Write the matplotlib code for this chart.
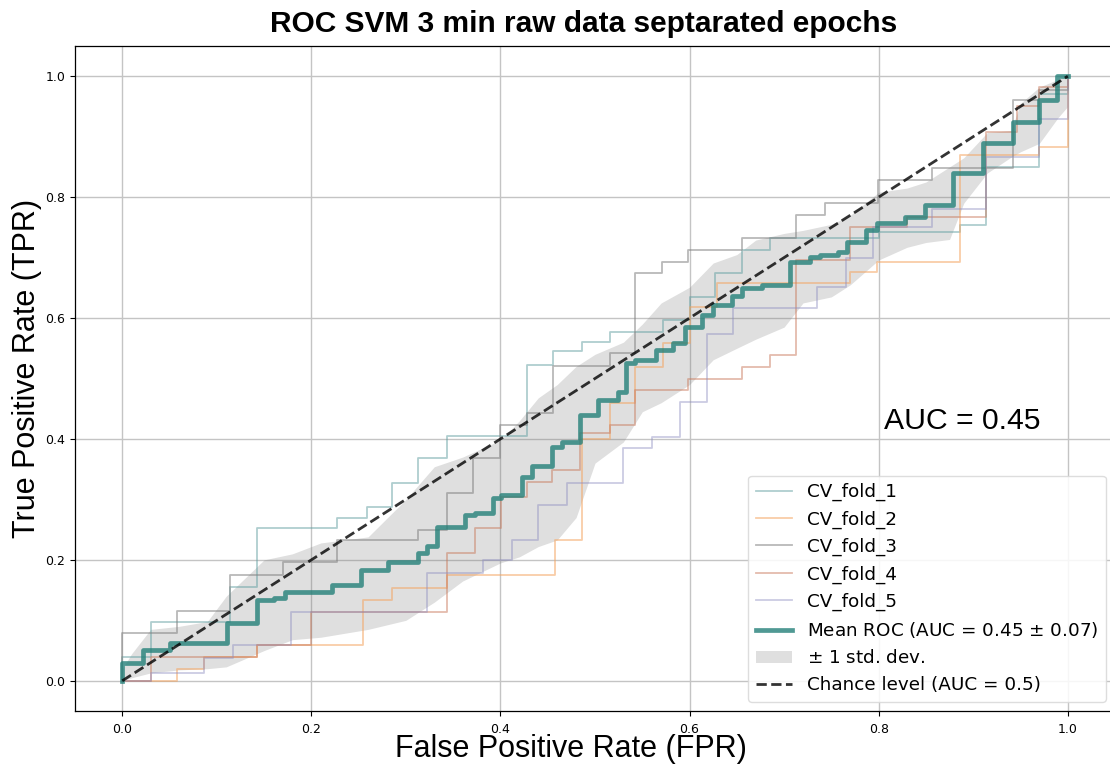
import numpy as np
import matplotlib
matplotlib.use("Agg")
import matplotlib.pyplot as plt

# ----------------------------------------------------------------------
# Values (FPR, TPR at each step corner)
# ----------------------------------------------------------------------
fold_labels = ["CV_fold_1", "CV_fold_2", "CV_fold_3", "CV_fold_4", "CV_fold_5"]

fold1_fpr = [0.0, 0.0, 0.030, 0.114, 0.143, 0.227, 0.259, 0.285, 0.313, 0.343, 0.428,
             0.456, 0.486, 0.516, 0.572, 0.600, 0.627, 0.656, 0.685, 0.800, 0.886,
             0.914, 0.970, 1.0]
fold1_tpr = [0.0, 0.040, 0.098, 0.155, 0.253, 0.269, 0.288, 0.327, 0.369, 0.405, 0.522,
             0.545, 0.560, 0.577, 0.597, 0.635, 0.674, 0.712, 0.732, 0.742, 0.754,
             0.850, 0.970, 1.0]

fold2_fpr = [0.0, 0.058, 0.086, 0.143, 0.255, 0.285, 0.343, 0.458, 0.486, 0.516, 0.542,
             0.572, 0.600, 0.629, 0.770, 0.798, 0.886, 0.970, 1.0]
fold2_tpr = [0.0, 0.020, 0.040, 0.059, 0.134, 0.154, 0.175, 0.233, 0.400, 0.459, 0.519,
             0.559, 0.618, 0.658, 0.676, 0.693, 0.869, 0.883, 1.0]

fold3_fpr = [0.0, 0.0, 0.058, 0.114, 0.170, 0.227, 0.313, 0.343, 0.371, 0.400, 0.428,
             0.456, 0.516, 0.542, 0.571, 0.598, 0.656, 0.713, 0.743, 0.799, 0.856,
             0.942, 0.970, 1.0]
fold3_tpr = [0.0, 0.079, 0.115, 0.175, 0.196, 0.233, 0.250, 0.311, 0.369, 0.423, 0.443,
             0.520, 0.542, 0.674, 0.693, 0.712, 0.732, 0.770, 0.790, 0.828, 0.848,
             0.960, 0.977, 1.0]

fold4_fpr = [0.0, 0.030, 0.143, 0.200, 0.343, 0.373, 0.401, 0.428, 0.455, 0.484, 0.516,
             0.542, 0.598, 0.656, 0.685, 0.713, 0.770, 0.830, 0.914, 0.946, 0.970, 1.0]
fold4_tpr = [0.0, 0.040, 0.059, 0.114, 0.211, 0.253, 0.304, 0.329, 0.349, 0.410, 0.423,
             0.481, 0.500, 0.519, 0.539, 0.696, 0.750, 0.767, 0.907, 0.950, 0.982, 1.0]

fold5_fpr = [0.0, 0.030, 0.086, 0.117, 0.178, 0.322, 0.382, 0.412, 0.440, 0.470, 0.530,
             0.560, 0.590, 0.618, 0.646, 0.735, 0.766, 0.794, 0.856, 0.914, 0.970, 1.0]
fold5_tpr = [0.0, 0.013, 0.038, 0.059, 0.114, 0.178, 0.200, 0.233, 0.291, 0.327, 0.385,
             0.403, 0.461, 0.573, 0.617, 0.651, 0.699, 0.750, 0.780, 0.866, 0.930, 1.0]

mean_fpr = [0.0, 0.0, 0.022, 0.051, 0.111, 0.143, 0.160, 0.172, 0.222, 0.252, 0.281,
            0.313, 0.322, 0.333, 0.363, 0.373, 0.392, 0.401, 0.423, 0.433, 0.455,
            0.465, 0.484, 0.503, 0.524, 0.533, 0.542, 0.565, 0.583, 0.595, 0.613,
            0.625, 0.645, 0.655, 0.677, 0.706, 0.727, 0.738, 0.757, 0.767, 0.787,
            0.798, 0.828, 0.849, 0.879, 0.910, 0.942, 0.970, 0.989, 1.0]
mean_tpr = [0.0, 0.030, 0.051, 0.063, 0.096, 0.134, 0.137, 0.147, 0.159, 0.183, 0.197,
            0.211, 0.223, 0.255, 0.274, 0.278, 0.302, 0.307, 0.337, 0.355, 0.387,
            0.395, 0.440, 0.464, 0.478, 0.525, 0.530, 0.547, 0.559, 0.585, 0.605,
            0.621, 0.637, 0.650, 0.655, 0.693, 0.701, 0.704, 0.709, 0.726, 0.745,
            0.757, 0.767, 0.787, 0.840, 0.889, 0.924, 0.960, 1.0, 1.0]

band_fpr = [0.0, 0.01, 0.03, 0.06, 0.09, 0.11, 0.15, 0.18, 0.21, 0.26, 0.30, 0.33,
            0.36, 0.40, 0.42, 0.44, 0.46, 0.48, 0.50, 0.53, 0.55, 0.57, 0.60, 0.625,
            0.65, 0.67, 0.70, 0.72, 0.75, 0.77, 0.80, 0.83, 0.85, 0.875, 0.89, 0.915,
            0.94, 0.95, 0.97, 0.99, 1.0]
band_upper = [0.02, 0.045, 0.085, 0.09, 0.098, 0.14, 0.20, 0.21, 0.228, 0.238, 0.30,
              0.354, 0.37, 0.398, 0.43, 0.468, 0.49, 0.52, 0.54, 0.56, 0.59, 0.625,
              0.651, 0.691, 0.705, 0.729, 0.74, 0.745, 0.755, 0.77, 0.808, 0.815,
              0.825, 0.85, 0.865, 0.907, 0.91, 0.955, 0.982, 0.995, 1.0]
band_lower = [0.0, 0.005, 0.013, 0.018, 0.02, 0.023, 0.05, 0.068, 0.072, 0.085, 0.10,
              0.13, 0.165, 0.195, 0.205, 0.222, 0.233, 0.27, 0.36, 0.395, 0.445, 0.46,
              0.49, 0.531, 0.55, 0.565, 0.585, 0.625, 0.635, 0.655, 0.696, 0.717,
              0.725, 0.73, 0.79, 0.84, 0.866, 0.875, 0.889, 0.932, 0.95]

chance_x = [0.0, 1.0]
chance_y = [0.0, 1.0]

mean_auc, std_auc = 0.45, 0.07

fold_colors = ["cadetblue", "sandybrown", "grey", "#c8785a", "#8c8cc0"]
fold_alphas = [0.5, 0.55, 0.55, 0.5, 0.45]

# ----------------------------------------------------------------------
W, H, DPI = 1110, 769, 100
fig = plt.figure(figsize=(W / DPI, H / DPI), dpi=DPI)
ax = fig.add_axes([75 / W, 58 / H, 1040 / W, 665 / H])

folds = [(fold1_fpr, fold1_tpr), (fold2_fpr, fold2_tpr), (fold3_fpr, fold3_tpr),
         (fold4_fpr, fold4_tpr), (fold5_fpr, fold5_tpr)]
for (fx, fy), lab, c, a in zip(folds, fold_labels, fold_colors, fold_alphas):
    ax.plot(fx, fy, drawstyle="steps-post", color=c, alpha=a, lw=1.3, label=lab)

ax.plot(mean_fpr, mean_tpr, drawstyle="steps-post", color="#248079", alpha=0.8, lw=3.4,
        label=f"Mean ROC (AUC = {mean_auc:.2f} $\\pm$ {std_auc:.2f})")
ax.fill_between(band_fpr, band_lower, band_upper, color="grey", alpha=0.25, lw=0,
                label=r"$\pm$ 1 std. dev.")
ax.plot(chance_x, chance_y, "k--", lw=2, alpha=0.8, label="Chance level (AUC = 0.5)")

ax.set_xlim(-0.05, 1.05)
ax.set_ylim(-0.05, 1.05)
ax.set_xticks([0.0, 0.2, 0.4, 0.6, 0.8, 1.0])
ax.set_yticks([0.0, 0.2, 0.4, 0.6, 0.8, 1.0])
ax.tick_params(labelsize=9, length=3.5, width=0.8)
ax.tick_params(axis="x", pad=5)
ax.grid(True, color="#c4c4c4", lw=1.0)
ax.set_axisbelow(True)
for s in ax.spines.values():
    s.set_linewidth(0.9)
ax.spines["right"].set_visible(False)

leg = ax.legend(loc="lower right", fontsize=13.2, framealpha=0.85, edgecolor="#d8d8d8",
                borderaxespad=0.5)

big = ["Liberation Sans", "DejaVu Sans"]
fig.text(584 / W, 1 - 24 / H, "ROC SVM 3 min raw data septarated epochs", ha="center",
         va="center", fontsize=21.5, fontweight="bold", family=big)
fig.text(571 / W, 1 - 749 / H, "False Positive Rate (FPR)", ha="center", va="center",
         fontsize=22, family=big)
fig.text(27 / W, 1 - 368 / H, "True Positive Rate (TPR)", ha="center", va="center",
         rotation=90, fontsize=22, family=big)
fig.text(884 / W, 1 - 421 / H, "AUC = 0.45", ha="left", va="center", fontsize=21.7,
         family=big)

fig.savefig("out.png", dpi=DPI)
